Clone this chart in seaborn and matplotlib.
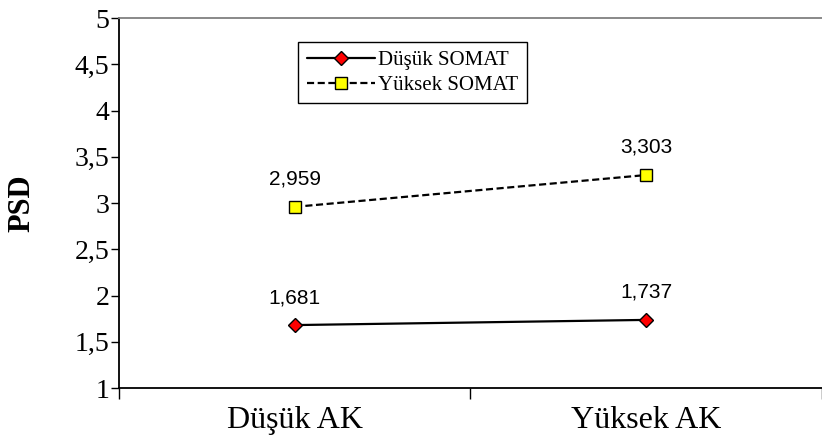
import matplotlib
matplotlib.use("Agg")
import matplotlib.pyplot as plt
from matplotlib.ticker import FixedLocator
import seaborn as sns
import pandas as pd

categories = ["Düşük AK", "Yüksek AK"]
dusuk_somat = [1.681, 1.737]
yuksek_somat = [2.959, 3.303]
series_names = ["Düşük SOMAT", "Yüksek SOMAT"]
y_ticks = [1, 1.5, 2, 2.5, 3, 3.5, 4, 4.5, 5]

sns.set_theme(style="white")
plt.rcParams["font.family"] = ["Liberation Serif", "DejaVu Serif"]
plt.rcParams["text.color"] = "black"
plt.rcParams["axes.labelcolor"] = "black"
plt.rcParams["xtick.color"] = "black"
plt.rcParams["ytick.color"] = "black"

df = pd.DataFrame({
    "AK": categories * 2,
    "PSD": dusuk_somat + yuksek_somat,
    "Grup": [series_names[0]] * 2 + [series_names[1]] * 2,
})

fig = plt.figure(figsize=(8.22, 4.40), dpi=100)
ax = fig.add_axes([0.1448, 0.118, 0.855, 0.841])

styles = {
    series_names[0]: dict(marker="D", markerfacecolor="#ff0000", markersize=7.5, linestyle="-"),
    series_names[1]: dict(marker="s", markerfacecolor="#ffff00", markersize=9, linestyle=(0, (3.2, 1.6))),
}
for name in series_names:
    sub = df[df["Grup"] == name]
    sns.lineplot(data=sub, x="AK", y="PSD", ax=ax, color="black", linewidth=1.6,
                 markeredgecolor="black", markeredgewidth=1.0, label=name,
                 sort=False, **styles[name])
    for xi, val in enumerate(sub["PSD"]):
        ax.annotate(f"{val:.3f}".replace(".", ","), (xi, val), xytext=(0, 13),
                    textcoords="offset points", ha="center", va="bottom", color="black",
                    fontsize=15, family=["Liberation Sans", "DejaVu Sans"])

ax.set_xlim(-0.5, 1.5)
ax.set_ylim(1, 5)
ax.set_yticks(y_ticks)
ax.set_yticklabels([f"{t:g}".replace(".", ",") for t in y_ticks])
ax.set_xticks([0, 1])
ax.set_xticklabels(categories)
ax.xaxis.set_minor_locator(FixedLocator([-0.5, 0.5, 1.5]))
ax.tick_params(axis="x", which="major", length=0, labelsize=23, pad=13, labelcolor="black")
ax.tick_params(axis="x", which="minor", length=8, width=1, color="black", direction="out", bottom=True)
ax.tick_params(axis="y", which="major", length=6, width=1, color="black", direction="out",
               labelsize=20, pad=1, left=True, labelcolor="black")
ax.set_xlabel("")
ax.set_ylabel("PSD", fontsize=22, fontweight="bold", color="black")
ax.yaxis.set_label_coords(-0.118, 0.5)

for side in ["left", "bottom"]:
    ax.spines[side].set_color("black")
    ax.spines[side].set_linewidth(1.3)
ax.spines["top"].set_color("#808080")
ax.spines["top"].set_linewidth(1.3)
ax.spines["right"].set_visible(False)

leg = ax.legend(loc="upper left", bbox_to_anchor=(0.255, 0.935), fontsize=15,
                frameon=True, fancybox=False, edgecolor="black", framealpha=1,
                handlelength=3.3, handletextpad=0.15, borderpad=0.4, labelspacing=0.25,
                borderaxespad=0, labelcolor="black")
leg.get_frame().set_linewidth(1.0)

fig.savefig("out.png", dpi=100)
